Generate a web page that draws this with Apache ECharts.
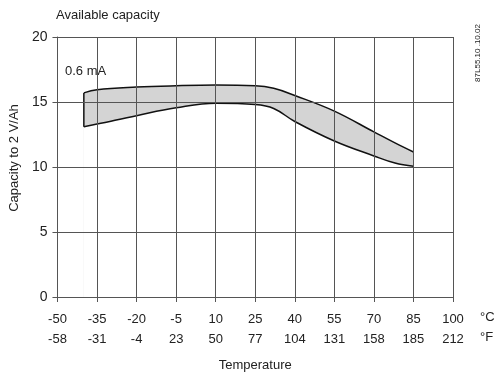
<!DOCTYPE html>
<html>
<head>
<meta charset="utf-8">
<script src="https://cdn.jsdelivr.net/npm/echarts@6/dist/echarts.min.js"></script>
<style>
  html, body { margin: 0; padding: 0; background: #fff; }
  #chart { width: 497px; height: 377px; }
</style>
</head>
<body>
<div id="chart"></div>
<script>
// temperature in °C and the capacity band (V/Ah) at 0.6 mA
const temps = [-40, -35, -20, -5, 10, 25, 32, 40, 55, 70, 78, 85]
const upper = [15.7, 15.95, 16.15, 16.25, 16.3, 16.25, 16.05, 15.5, 14.3, 12.7, 11.85, 11.15]
const lower = [13.1, 13.3, 13.95, 14.55, 14.9, 14.8, 14.5, 13.5, 12.0, 10.85, 10.3, 10.05]

// axis ticks
const celsiusTicks = [-50, -35, -20, -5, 10, 25, 40, 55, 70, 85, 100]
const fahrenheitTicks = [-58, -31, -4, 23, 50, 77, 104, 131, 158, 185, 212]

const font = 'Liberation Sans, Arial, sans-serif'
const textColor = '#222'
const gridColor = '#555'

const chart = echarts.init(document.getElementById('chart'))

const upperData = temps.map((t, i) => [t, upper[i]])
const lowerData = temps.map((t, i) => [t, lower[i]])
const edgeData = [[temps[0], lower[0]], [temps[0], upper[0]]]

const option = {
  animation: false,
  grid: { left: 54, right: 44, top: 37, bottom: 80 },
  xAxis: [{
    type: 'value',
    min: -50,
    max: 100,
    z: 5,
    name: 'Temperature',
    nameLocation: 'middle',
    nameGap: 62,
    nameTextStyle: { fontFamily: font, fontSize: 13, color: textColor },
    axisLine: { show: true, onZero: false, lineStyle: { color: gridColor } },
    axisTick: { show: true, customValues: celsiusTicks, length: 5, lineStyle: { color: gridColor } },
    axisLabel: {
      customValues: celsiusTicks,
      margin: 12,
      fontFamily: font,
      fontSize: 13,
      color: textColor,
      lineHeight: 20,
      formatter: (v) => {
        const i = celsiusTicks.indexOf(v)
        return v + '\n' + (i >= 0 ? fahrenheitTicks[i] : '')
      }
    },
    splitLine: { show: false }
  }, {
    // span of the °C axis, only used for the vertical grid lines
    type: 'value',
    position: 'top',
    min: 0,
    max: celsiusTicks[celsiusTicks.length - 1] - celsiusTicks[0],
    interval: celsiusTicks[1] - celsiusTicks[0],
    z: 5,
    axisLine: { show: false },
    axisTick: { show: false },
    axisLabel: { show: false },
    splitLine: { show: true, lineStyle: { color: gridColor, width: 1 } }
  }],
  yAxis: {
    type: 'value',
    min: 0,
    max: 20,
    interval: 5,
    z: 5,
    name: 'Capacity to 2 V/Ah',
    nameLocation: 'middle',
    nameGap: 32,
    nameTextStyle: { fontFamily: font, fontSize: 13, color: textColor, padding: [0, 0, 0, 18] },
    axisLine: { show: true, onZero: false, lineStyle: { color: gridColor } },
    axisTick: { show: true, length: 5, lineStyle: { color: gridColor } },
    axisLabel: { margin: 10, fontFamily: font, fontSize: 14, color: textColor },
    splitLine: { show: true, lineStyle: { color: gridColor, width: 1 } }
  },
  series: [
    {
      name: 'upper',
      type: 'line',
      smooth: 0.4,
      showSymbol: false,
      data: upperData,
      lineStyle: { color: '#111', width: 1.5 },
      areaStyle: { color: '#d4d4d4', opacity: 1 }
    },
    {
      name: 'lower',
      type: 'line',
      smooth: 0.4,
      showSymbol: false,
      data: lowerData,
      lineStyle: { color: '#111', width: 1.5 },
      areaStyle: { color: '#fff', opacity: 1 }
    },
    {
      name: 'edge',
      type: 'line',
      showSymbol: false,
      data: edgeData,
      lineStyle: { color: '#111', width: 1.5 }
    }
  ],
  graphic: [
    {
      type: 'text', left: 56, top: 9,
      style: { text: 'Available capacity', font: '13px ' + font, fill: textColor }
    },
    {
      type: 'text', left: 65, top: 65,
      style: { text: '0.6 mA', font: '13px ' + font, fill: textColor }
    },
    {
      type: 'text', left: 480, top: 311,
      style: { text: '°C', font: '13px ' + font, fill: textColor }
    },
    {
      type: 'text', left: 480, top: 331,
      style: { text: '°F', font: '13px ' + font, fill: textColor }
    },
    {
      type: 'text', x: 478, y: 53, rotation: Math.PI / 2,
      style: { text: '87L55.10 .10.02', font: '8px ' + font, fill: textColor, align: 'center', verticalAlign: 'middle' }
    }
  ]
}

chart.setOption(option)
</script>
</body>
</html>
